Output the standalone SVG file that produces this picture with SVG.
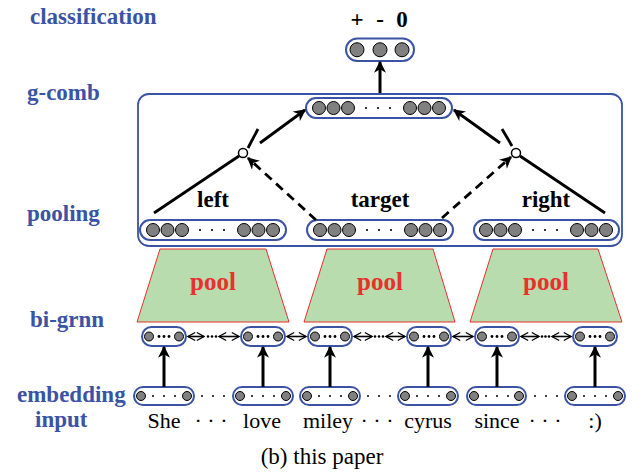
<svg xmlns="http://www.w3.org/2000/svg" width="641" height="473" viewBox="0 0 641 473">
<style>
.lbl{font-family:"Liberation Serif",serif;font-weight:bold;font-size:23px;fill:#3a53a4}
.bt{font-family:"Liberation Serif",serif;font-weight:bold;font-size:23px;fill:#000;text-anchor:middle}
.pool{font-family:"Liberation Serif",serif;font-weight:bold;font-size:25px;fill:#e8302e;text-anchor:middle}
.w{font-family:"Liberation Serif",serif;font-size:22px;fill:#000;text-anchor:middle}
.cap{fill:#fff;stroke:#3a53a4;stroke-width:2}
.n{fill:#808080;stroke:#000;stroke-width:1}
.d{fill:#000}
.trap{fill:#b8dcad;stroke:#e8302e;stroke-width:1}
.ln{stroke:#000;stroke-width:2.8;fill:none}
.dash{stroke:#000;stroke-width:2.8;fill:none;stroke-dasharray:9 6}
.va{stroke:#000;stroke-width:3;fill:none}
.da{stroke:#000;stroke-width:1.6;fill:none}
</style>
<defs>
<marker id="arr" viewBox="0 0 10 10" refX="9" refY="5" markerWidth="13" markerHeight="12" markerUnits="userSpaceOnUse" orient="auto">
<path d="M0,0 L10,5 L0,10 L3,5 z" fill="#000"/>
</marker>
<marker id="chev" viewBox="0 0 10 10" refX="9" refY="5" markerWidth="9" markerHeight="12" markerUnits="userSpaceOnUse" orient="auto-start-reverse">
<path d="M1,0.5 L9,5 L1,9.5" fill="none" stroke="#000" stroke-width="1.4"/>
</marker>
</defs>

<g id="labels">
<text class="lbl" x="30" y="24">classification</text>
<text class="lbl" x="27" y="100">g-comb</text>
<text class="lbl" x="27" y="221">pooling</text>
<text class="lbl" x="30" y="327">bi-grnn</text>
<text class="lbl" x="17" y="402">embedding</text>
<text class="lbl" x="35" y="427">input</text>
</g>

<g id="output">
<text class="bt" x="357" y="27">+</text>
<text class="bt" x="380" y="27">-</text>
<text class="bt" x="402" y="27">0</text>
<rect class="cap" x="346" y="38.5" width="68" height="22.5" rx="11.25"/>
<circle class="n" cx="357" cy="49.75" r="7"/>
<circle class="n" cx="380" cy="49.75" r="7"/>
<circle class="n" cx="402" cy="49.75" r="7"/>
</g>

<g id="g-comb">
<rect x="138" y="94" width="484" height="152" rx="11" fill="none" stroke="#3a53a4" stroke-width="1.8"/>
</g>

<g id="comb-vector">
<rect class="cap" x="306" y="98" width="146" height="20" rx="10"/>
<circle class="n" cx="319" cy="108" r="6.5"/><circle class="n" cx="333.5" cy="108" r="6.5"/><circle class="n" cx="348" cy="108" r="6.5"/>
<circle class="d" cx="366" cy="108" r="1.1"/><circle class="d" cx="378" cy="108" r="1.1"/><circle class="d" cx="390" cy="108" r="1.1"/>
<circle class="n" cx="410" cy="108" r="6.5"/><circle class="n" cx="424.5" cy="108" r="6.5"/><circle class="n" cx="439" cy="108" r="6.5"/>
</g>

<g id="pool-left">
<text class="bt" x="213" y="207">left</text>
<rect class="cap" x="140" y="220" width="146" height="20" rx="10"/>
<circle class="n" cx="153" cy="230" r="6.5"/><circle class="n" cx="167.5" cy="230" r="6.5"/><circle class="n" cx="182" cy="230" r="6.5"/>
<circle class="d" cx="200" cy="230" r="1.1"/><circle class="d" cx="212" cy="230" r="1.1"/><circle class="d" cx="224" cy="230" r="1.1"/>
<circle class="n" cx="244" cy="230" r="6.5"/><circle class="n" cx="258.5" cy="230" r="6.5"/><circle class="n" cx="273" cy="230" r="6.5"/>
</g>

<g id="pool-target">
<text class="bt" x="380" y="207">target</text>
<rect class="cap" x="307" y="220" width="146" height="20" rx="10"/>
<circle class="n" cx="320" cy="230" r="6.5"/><circle class="n" cx="334.5" cy="230" r="6.5"/><circle class="n" cx="349" cy="230" r="6.5"/>
<circle class="d" cx="367" cy="230" r="1.1"/><circle class="d" cx="379" cy="230" r="1.1"/><circle class="d" cx="391" cy="230" r="1.1"/>
<circle class="n" cx="411" cy="230" r="6.5"/><circle class="n" cx="425.5" cy="230" r="6.5"/><circle class="n" cx="440" cy="230" r="6.5"/>
</g>

<g id="pool-right">
<text class="bt" x="546" y="207">right</text>
<rect class="cap" x="474" y="220" width="145" height="20" rx="10"/>
<circle class="n" cx="486" cy="230" r="6.5"/><circle class="n" cx="500.5" cy="230" r="6.5"/><circle class="n" cx="515" cy="230" r="6.5"/>
<circle class="d" cx="533" cy="230" r="1.1"/><circle class="d" cx="545" cy="230" r="1.1"/><circle class="d" cx="557" cy="230" r="1.1"/>
<circle class="n" cx="577" cy="230" r="6.5"/><circle class="n" cx="591.5" cy="230" r="6.5"/><circle class="n" cx="606" cy="230" r="6.5"/>
</g>

<g id="gate-left">
<circle cx="243" cy="153" r="4.5" fill="#fff" stroke="#000" stroke-width="1.5"/>
</g>
<g id="gate-right">
<circle cx="516" cy="153" r="4.5" fill="#fff" stroke="#000" stroke-width="1.5"/>
</g>

<g id="pool1">
<polygon class="trap" points="160,249 266,249 289,322 137,322"/>
<text class="pool" x="213" y="290">pool</text>
</g>
<g id="pool2">
<polygon class="trap" points="327,249 433,249 455,322 304,322"/>
<text class="pool" x="380" y="290">pool</text>
</g>
<g id="pool3">
<polygon class="trap" points="493,249 598,249 622,322 470,322"/>
<text class="pool" x="546" y="290">pool</text>
</g>

<g id="grnn">
<g id="h1"><rect class="cap" x="142" y="327" width="44" height="19" rx="9.5"/><circle class="n" cx="149" cy="336.5" r="4.5"/><circle class="n" cx="179" cy="336.5" r="4.5"/><circle class="d" cx="159" cy="336.5" r="1.4"/><circle class="d" cx="164" cy="336.5" r="1.4"/><circle class="d" cx="169" cy="336.5" r="1.4"/></g>
<g id="h2"><rect class="cap" x="241" y="327" width="44" height="19" rx="9.5"/><circle class="n" cx="248" cy="336.5" r="4.5"/><circle class="n" cx="278" cy="336.5" r="4.5"/><circle class="d" cx="258" cy="336.5" r="1.4"/><circle class="d" cx="263" cy="336.5" r="1.4"/><circle class="d" cx="268" cy="336.5" r="1.4"/></g>
<g id="h3"><rect class="cap" x="308" y="327" width="44" height="19" rx="9.5"/><circle class="n" cx="315" cy="336.5" r="4.5"/><circle class="n" cx="345" cy="336.5" r="4.5"/><circle class="d" cx="325" cy="336.5" r="1.4"/><circle class="d" cx="330" cy="336.5" r="1.4"/><circle class="d" cx="335" cy="336.5" r="1.4"/></g>
<g id="h4"><rect class="cap" x="407" y="327" width="44" height="19" rx="9.5"/><circle class="n" cx="414" cy="336.5" r="4.5"/><circle class="n" cx="444" cy="336.5" r="4.5"/><circle class="d" cx="424" cy="336.5" r="1.4"/><circle class="d" cx="429" cy="336.5" r="1.4"/><circle class="d" cx="434" cy="336.5" r="1.4"/></g>
<g id="h5"><rect class="cap" x="475" y="327" width="44" height="19" rx="9.5"/><circle class="n" cx="482" cy="336.5" r="4.5"/><circle class="n" cx="512" cy="336.5" r="4.5"/><circle class="d" cx="492" cy="336.5" r="1.4"/><circle class="d" cx="497" cy="336.5" r="1.4"/><circle class="d" cx="502" cy="336.5" r="1.4"/></g>
<g id="h6"><rect class="cap" x="573" y="327" width="44" height="19" rx="9.5"/><circle class="n" cx="580" cy="336.5" r="4.5"/><circle class="n" cx="610" cy="336.5" r="4.5"/><circle class="d" cx="590" cy="336.5" r="1.4"/><circle class="d" cx="595" cy="336.5" r="1.4"/><circle class="d" cx="600" cy="336.5" r="1.4"/></g>
</g>

<g id="embedding">
<g id="e1"><rect class="cap" x="134" y="387" width="60" height="18" rx="9"/><circle class="n" cx="141" cy="396" r="4.5"/><circle class="n" cx="187" cy="396" r="4.5"/><circle class="d" cx="153" cy="396" r="1"/><circle class="d" cx="164" cy="396" r="1"/><circle class="d" cx="175" cy="396" r="1"/></g>
<g id="e2"><rect class="cap" x="233" y="387" width="60" height="18" rx="9"/><circle class="n" cx="240" cy="396" r="4.5"/><circle class="n" cx="286" cy="396" r="4.5"/><circle class="d" cx="252" cy="396" r="1"/><circle class="d" cx="263" cy="396" r="1"/><circle class="d" cx="274" cy="396" r="1"/></g>
<g id="e3"><rect class="cap" x="300" y="387" width="60" height="18" rx="9"/><circle class="n" cx="307" cy="396" r="4.5"/><circle class="n" cx="353" cy="396" r="4.5"/><circle class="d" cx="319" cy="396" r="1"/><circle class="d" cx="330" cy="396" r="1"/><circle class="d" cx="341" cy="396" r="1"/></g>
<g id="e4"><rect class="cap" x="398" y="387" width="60" height="18" rx="9"/><circle class="n" cx="405" cy="396" r="4.5"/><circle class="n" cx="451" cy="396" r="4.5"/><circle class="d" cx="417" cy="396" r="1"/><circle class="d" cx="428" cy="396" r="1"/><circle class="d" cx="439" cy="396" r="1"/></g>
<g id="e5"><rect class="cap" x="467" y="387" width="59" height="18" rx="9"/><circle class="n" cx="474" cy="396" r="4.5"/><circle class="n" cx="519" cy="396" r="4.5"/><circle class="d" cx="486" cy="396" r="1"/><circle class="d" cx="497" cy="396" r="1"/><circle class="d" cx="508" cy="396" r="1"/></g>
<g id="e6"><rect class="cap" x="565" y="387" width="60" height="18" rx="9"/><circle class="n" cx="572" cy="396" r="4.5"/><circle class="n" cx="618" cy="396" r="4.5"/><circle class="d" cx="584" cy="396" r="1"/><circle class="d" cx="595" cy="396" r="1"/><circle class="d" cx="606" cy="396" r="1"/></g>
<g id="gapdots">
<circle class="d" cx="202" cy="396" r="1"/><circle class="d" cx="213" cy="396" r="1"/><circle class="d" cx="224" cy="396" r="1"/>
<circle class="d" cx="368" cy="396" r="1"/><circle class="d" cx="379" cy="396" r="1"/><circle class="d" cx="390" cy="396" r="1"/>
<circle class="d" cx="535" cy="396" r="1"/><circle class="d" cx="546" cy="396" r="1"/><circle class="d" cx="557" cy="396" r="1"/>
</g>
</g>

<g id="words">
<text class="w" x="164" y="428">She</text>
<text class="w" x="211" y="428">· · ·</text>
<text class="w" x="262" y="428">love</text>
<text class="w" x="328" y="428">miley</text>
<text class="w" x="377" y="428">· · ·</text>
<text class="w" x="428" y="428">cyrus</text>
<text class="w" x="497" y="428">since</text>
<text class="w" x="545" y="428">· · ·</text>
<text class="w" x="595" y="428">:)</text>
</g>

<g id="connectors">
<line class="va" x1="380" y1="93" x2="380" y2="62" marker-end="url(#arr)"/>
<line class="ln" x1="154" y1="213" x2="239" y2="156"/>
<line class="ln" x1="248" y1="148" x2="258" y2="129"/>
<line class="ln" x1="260" y1="143" x2="305" y2="110" marker-end="url(#arr)"/>
<line class="dash" x1="316" y1="220" x2="248" y2="158" marker-end="url(#arr)"/>
<line class="dash" x1="442" y1="218" x2="511" y2="157" marker-end="url(#arr)"/>
<line class="ln" x1="520" y1="156" x2="605" y2="213"/>
<line class="ln" x1="502" y1="129" x2="512" y2="146"/>
<line class="ln" x1="500" y1="143" x2="454" y2="110" marker-end="url(#arr)"/>
<line class="va" x1="164" y1="387" x2="164" y2="347" marker-end="url(#arr)"/>
<line class="va" x1="263" y1="387" x2="263" y2="347" marker-end="url(#arr)"/>
<line class="va" x1="330" y1="387" x2="330" y2="347" marker-end="url(#arr)"/>
<line class="va" x1="428" y1="387" x2="428" y2="347" marker-end="url(#arr)"/>
<line class="va" x1="497" y1="387" x2="497" y2="347" marker-end="url(#arr)"/>
<line class="va" x1="595" y1="387" x2="595" y2="347" marker-end="url(#arr)"/>
<line class="da" x1="188" y1="336.5" x2="204" y2="336.5" marker-start="url(#chev)" marker-end="url(#chev)"/>
<line class="da" x1="219" y1="336.5" x2="239" y2="336.5" marker-start="url(#chev)" marker-end="url(#chev)"/>
<line class="da" x1="287" y1="336.5" x2="306" y2="336.5" marker-start="url(#chev)" marker-end="url(#chev)"/>
<line class="da" x1="354" y1="336.5" x2="372" y2="336.5" marker-start="url(#chev)" marker-end="url(#chev)"/>
<line class="da" x1="386" y1="336.5" x2="405" y2="336.5" marker-start="url(#chev)" marker-end="url(#chev)"/>
<line class="da" x1="453" y1="336.5" x2="473" y2="336.5" marker-start="url(#chev)" marker-end="url(#chev)"/>
<line class="da" x1="521" y1="336.5" x2="539" y2="336.5" marker-start="url(#chev)" marker-end="url(#chev)"/>
<line class="da" x1="552" y1="336.5" x2="571" y2="336.5" marker-start="url(#chev)" marker-end="url(#chev)"/>
<circle class="d" cx="208" cy="336.5" r="1.3"/><circle class="d" cx="212" cy="336.5" r="1.3"/><circle class="d" cx="216" cy="336.5" r="1.3"/>
<circle class="d" cx="375" cy="336.5" r="1.3"/><circle class="d" cx="379" cy="336.5" r="1.3"/><circle class="d" cx="383" cy="336.5" r="1.3"/>
<circle class="d" cx="542" cy="336.5" r="1.3"/><circle class="d" cx="545.5" cy="336.5" r="1.3"/><circle class="d" cx="549" cy="336.5" r="1.3"/>
</g>

<text class="w" x="322" y="464" style="font-size:23px">(b)  this paper</text>
</svg>
